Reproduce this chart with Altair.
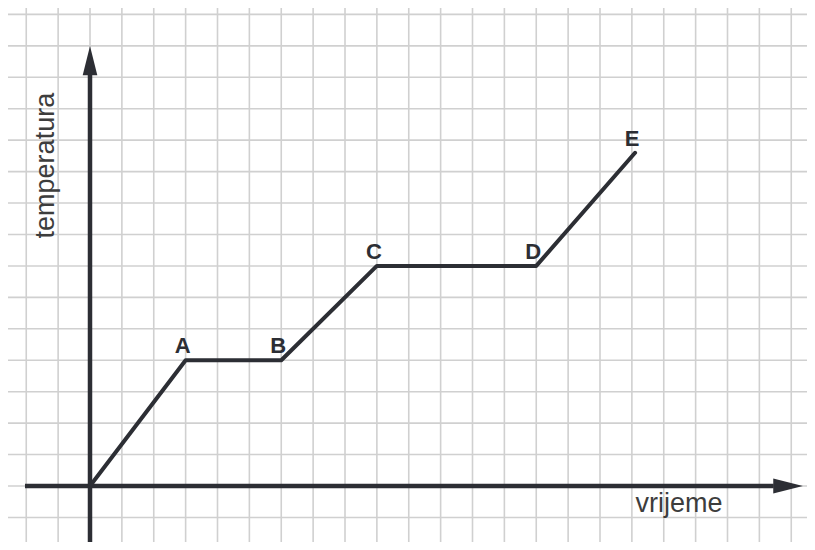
import altair as alt
import pandas as pd

# curve data (grid units)
time = [0, 3, 6, 9, 14, 17.1]
temp = [0, 4, 4, 7, 7, 10.6]
labels = ["", "A", "B", "C", "D", "E"]

# grid lines
grid_x = list(range(-2, 23))
grid_y = list(range(-1, 16))

# axis arrows
x_axis = [-2.04, 21.45]      # horizontal axis extent (y = 0)
x_tip_center = [21.9]
y_axis = [-1.78, 13.1]       # vertical axis extent (x = 0)
y_tip_center = [13.53]

x_title = ["vrijeme"]
x_title_pos = [(18.48, -0.83)]
y_title = ["temperatura"]
y_title_pos = [(-1.13, 10.19)]

INK = "#2c2e34"
GRID = "#d0d0d0"
xs = alt.Scale(domain=[-2.5725, 22.494], nice=False, zero=False)
ys = alt.Scale(domain=[-1.781, 15.204], nice=False, zero=False)

curve = pd.DataFrame({"t": time, "T": temp, "lab": labels})

gx = alt.Chart(pd.DataFrame({"x": grid_x})).mark_rule(color=GRID, strokeWidth=1.6).encode(
    x=alt.X("x:Q", scale=xs, axis=None))
gy = alt.Chart(pd.DataFrame({"y": grid_y})).mark_rule(color=GRID, strokeWidth=1.6).encode(
    y=alt.Y("y:Q", scale=ys, axis=None))

hx = pd.DataFrame({"x": [x_axis[0]], "x2": [x_axis[1]], "y": [0]})
h_axis = alt.Chart(hx).mark_rule(color=INK, strokeWidth=4.5).encode(
    x=alt.X("x:Q", scale=xs, axis=None), x2="x2:Q", y=alt.Y("y:Q", scale=ys, axis=None))

vy = pd.DataFrame({"y": [y_axis[0]], "y2": [y_axis[1]], "x": [0]})
v_axis = alt.Chart(vy).mark_rule(color=INK, strokeWidth=4.5).encode(
    y=alt.Y("y:Q", scale=ys, axis=None), y2="y2:Q", x=alt.X("x:Q", scale=xs, axis=None))

arrow_shape = "M0,-1L0.5,1L-0.5,1Z"
hx_tip = pd.DataFrame({"x": x_tip_center, "y": [0]})
h_tip = alt.Chart(hx_tip).mark_point(shape=arrow_shape, filled=True, opacity=1,
                                     color=INK, size=880, angle=90).encode(
    x=alt.X("x:Q", scale=xs, axis=None), y=alt.Y("y:Q", scale=ys, axis=None))
vy_tip = pd.DataFrame({"x": [0], "y": y_tip_center})
v_tip = alt.Chart(vy_tip).mark_point(shape=arrow_shape, filled=True, opacity=1,
                                     color=INK, size=860).encode(
    x=alt.X("x:Q", scale=xs, axis=None), y=alt.Y("y:Q", scale=ys, axis=None))

line = alt.Chart(curve).mark_line(color=INK, strokeWidth=4, strokeCap="round",
                                  strokeJoin="round").encode(
    x=alt.X("t:Q", scale=xs, axis=None), y=alt.Y("T:Q", scale=ys, axis=None))

pts = alt.Chart(curve).mark_text(font="Liberation Sans", fontWeight="bold", fontSize=22,
                                 color=INK, baseline="alphabetic", dy=-7, dx=-3).encode(
    x=alt.X("t:Q", scale=xs, axis=None), y=alt.Y("T:Q", scale=ys, axis=None), text="lab:N")

xt = pd.DataFrame({"x": [p[0] for p in x_title_pos], "y": [p[1] for p in x_title_pos], "s": x_title})
xtitle = alt.Chart(xt).mark_text(font="Liberation Sans", fontSize=27, color="#3d3d3d",
                                 baseline="alphabetic", align="center").encode(
    x=alt.X("x:Q", scale=xs, axis=None), y=alt.Y("y:Q", scale=ys, axis=None), text="s:N")

yt = pd.DataFrame({"x": [p[0] for p in y_title_pos], "y": [p[1] for p in y_title_pos], "s": y_title})
ytitle = alt.Chart(yt).mark_text(font="Liberation Sans", fontSize=27, color="#3d3d3d",
                                 baseline="alphabetic", align="center", angle=270).encode(
    x=alt.X("x:Q", scale=xs, axis=None), y=alt.Y("y:Q", scale=ys, axis=None), text="s:N")

chart = alt.layer(gx, gy, h_axis, v_axis, h_tip, v_tip, line, pts, xtitle, ytitle).properties(
    width=799, height=534, padding=0,
    autosize=alt.AutoSizeParams(type="none"),
    background="white",
).configure_view(stroke=None)

chart.save("out.html", embed_options={"renderer": "svg", "actions": False})
